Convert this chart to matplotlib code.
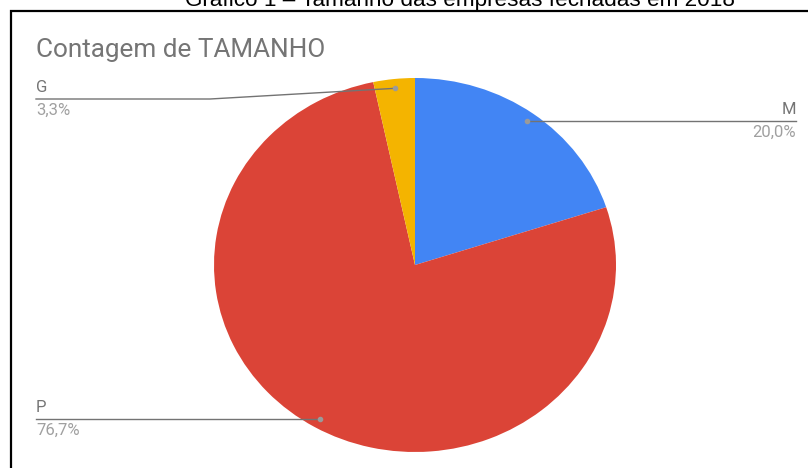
import matplotlib
matplotlib.use("Agg")
import matplotlib.pyplot as plt
import numpy as np
from matplotlib.patches import Rectangle

categories = ["M", "P", "G"]
counts = [6, 23, 1]
pct_labels = ["20,0%", "76,7%", "3,3%"]
colors = ["#4285F4", "#DB4437", "#F4B400"]
title = "Contagem de TAMANHO"
caption = "Gráfico 1 – Tamanho das empresas fechadas em 2018"

W, H = 808, 468
fig = plt.figure(figsize=(W / 100, H / 100), dpi=100)
fig.patch.set_facecolor("white")

def fx(px):
    return px / W

def fy(py):
    return 1 - py / H

# frame
fig.patches.append(Rectangle((fx(11), fy(470)), fx(810) - fx(11), fy(11) - fy(470),
                             transform=fig.transFigure, fill=False, edgecolor="black",
                             linewidth=1.6, zorder=0))

# caption (cropped at top, as in the source)
fig.text(fx(460), fy(6), caption, ha="center", va="baseline", fontsize=16.2,
         family="Liberation Sans", color="black")

fig.text(fx(36), fy(57), title, ha="left", va="baseline", fontsize=18.8,
         family="Roboto", color="#757575")

# pie axes: center (415,265), rx 201, ry 187
cx, cy, rx, ry = 415, 265, 201, 187
ax = fig.add_axes([fx(cx - rx), fy(cy + ry), 2 * rx / W, 2 * ry / H])
ax.pie(counts, colors=colors, startangle=90, counterclock=False,
       wedgeprops=dict(linewidth=0), radius=1)
ax.set_aspect("auto")
ax.set_xlim(-1, 1)
ax.set_ylim(-1, 1)
ax.axis("off")

def dx(px):
    return (px - cx) / rx

def dy(py):
    return (cy - py) / ry

total = sum(counts)
cum = 0
mids = []
for c in counts:
    mids.append(90 - 360 * (cum + c / 2) / total)
    cum += c

r = 0.95
line_col = "#737373"
lab_col = "#757575"
pct_col = "#A0A0A0"
fs = 12
for i, cat in enumerate(categories):
    a = np.deg2rad(mids[i])
    x0, y0 = r * np.cos(a), r * np.sin(a)
    ax.plot([x0], [y0], "o", ms=3, color="#9A9A9A", clip_on=False, zorder=5)
    if x0 > 0:
        ly = y0
        xs = [x0, dx(796)]
        ys = [y0, y0]
        xt, ha = dx(796), "right"
    else:
        if y0 > 0:
            ly = dy(99)
            xs = [x0, dx(210), dx(36)]
            ys = [y0, ly, ly]
        else:
            ly = y0
            xs = [x0, dx(36)]
            ys = [y0, y0]
        xt, ha = dx(36), "left"
    ax.plot(xs, ys, color=line_col, lw=1.0, clip_on=False, zorder=4)
    ax.text(xt, ly + 4 / ry, cat, ha=ha, va="bottom", fontsize=fs,
            family="Roboto", color=lab_col)
    ax.text(xt, ly - 4 / ry, pct_labels[i], ha=ha, va="top", fontsize=fs,
            family="Roboto", color=pct_col)

fig.savefig("out.png", dpi=100, facecolor="white")
